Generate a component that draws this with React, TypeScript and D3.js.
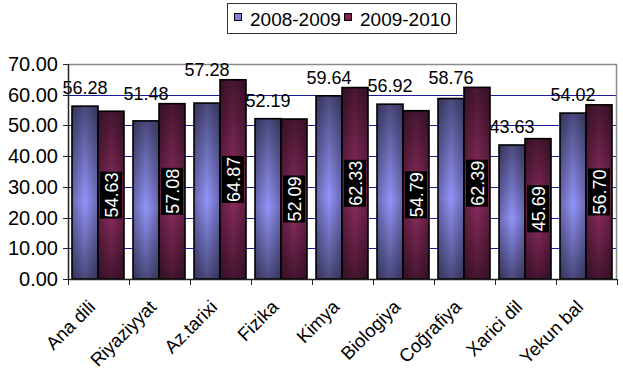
import React, { useEffect, useRef } from 'react';
import { select, scaleBand, scaleLinear, range } from 'd3';

const categories = [
  'Ana dili',
  'Riyaziyyat',
  'Az.tarixi',
  'Fizika',
  'Kimya',
  'Biologiya',
  'Coğrafiya',
  'Xarici dil',
  'Yekun bal'
];
const series = ['2008-2009', '2009-2010'];
const values0809 = [56.28, 51.48, 57.28, 52.19, 59.64, 56.92, 58.76, 43.63, 54.02];
const values0910 = [54.63, 57.08, 64.87, 52.09, 62.33, 54.79, 62.39, 45.69, 56.7];
const yTicks = [0, 10, 20, 30, 40, 50, 60, 70];

const canvasWidth = 623;
const canvasHeight = 373;
const plot = { left: 68, right: 617, top: 64, bottom: 279 };
const font = '"Liberation Sans", Arial, sans-serif';

function App() {
  const svgRef = useRef<SVGSVGElement>(null);

  useEffect(() => {
    const svg = select(svgRef.current);
    svg.selectAll('*').remove();

    const x = scaleBand().domain(categories).range([plot.left, plot.right]);
    const xInner = scaleBand().domain(series).range([4, 56]);
    const y = scaleLinear().domain([0, 70]).range([plot.bottom, plot.top]);

    // gradients
    const defs = svg.append('defs');
    const vGrad = (id: string, dark: string, light: string) => {
      const g = defs
        .append('linearGradient')
        .attr('id', id)
        .attr('x1', 0)
        .attr('y1', 0)
        .attr('x2', 0)
        .attr('y2', 1);
      g.append('stop').attr('offset', '0%').attr('stop-color', dark);
      g.append('stop').attr('offset', '55%').attr('stop-color', light);
      g.append('stop').attr('offset', '100%').attr('stop-color', dark);
    };
    vGrad('blueGrad', '#4a4a7e', '#9494fa');
    vGrad('redGrad', '#481632', '#922e62');
    const hShade = defs
      .append('linearGradient')
      .attr('id', 'hShade')
      .attr('x1', 0)
      .attr('y1', 0)
      .attr('x2', 1)
      .attr('y2', 0);
    hShade.append('stop').attr('offset', '0%').attr('stop-color', '#000').attr('stop-opacity', 0.3);
    hShade.append('stop').attr('offset', '50%').attr('stop-color', '#000').attr('stop-opacity', 0);
    hShade.append('stop').attr('offset', '100%').attr('stop-color', '#000').attr('stop-opacity', 0.3);

    svg
      .append('rect')
      .attr('width', canvasWidth)
      .attr('height', canvasHeight)
      .attr('fill', '#fff');

    // legend
    const legend = svg.append('g');
    legend
      .append('rect')
      .attr('x', 227.5)
      .attr('y', 3.5)
      .attr('width', 229)
      .attr('height', 30)
      .attr('fill', '#fff')
      .attr('stroke', '#333');
    const legendX = [234, 344];
    series.forEach((s, i) => {
      legend
        .append('rect')
        .attr('x', legendX[i] + 0.5)
        .attr('y', 13.5)
        .attr('width', 7)
        .attr('height', 7)
        .attr('fill', i === 0 ? '#8080e0' : '#802050')
        .attr('stroke', '#000');
      legend
        .append('text')
        .attr('x', legendX[i] + 16)
        .attr('y', 26)
        .attr('font-family', font)
        .attr('font-size', 19)
        .text(s);
    });

    // gridlines
    svg
      .append('g')
      .selectAll('line')
      .data(yTicks.filter(d => d > 0 && d < 70))
      .enter()
      .append('line')
      .attr('x1', plot.left)
      .attr('x2', plot.right)
      .attr('y1', d => Math.round(y(d)) + 0.5)
      .attr('y2', d => Math.round(y(d)) + 0.5)
      .attr('stroke', '#1c1ca0')
      .attr('stroke-width', 1);

    // plot border (top/right)
    svg
      .append('path')
      .attr('d', `M${plot.left},${plot.top + 0.5}H${plot.right - 0.5}V${plot.bottom}`)
      .attr('fill', 'none')
      .attr('stroke', '#8a8a8a')
      .attr('stroke-width', 1.5);

    // bars
    const groups = svg
      .append('g')
      .selectAll('g')
      .data(categories)
      .enter()
      .append('g')
      .attr('transform', d => `translate(${x(d)},0)`);

    const seriesValues = [values0809, values0910];
    series.forEach((s, si) => {
      const bars = groups
        .append('g')
        .datum((d, i) => seriesValues[si][i]);
      bars
        .append('rect')
        .attr('x', xInner(s))
        .attr('y', d => y(d))
        .attr('width', xInner.bandwidth())
        .attr('height', d => y(0) - y(d))
        .attr('fill', si === 0 ? 'url(#blueGrad)' : 'url(#redGrad)');
      bars
        .append('rect')
        .attr('x', xInner(s))
        .attr('y', d => y(d))
        .attr('width', xInner.bandwidth())
        .attr('height', d => y(0) - y(d))
        .attr('fill', 'url(#hShade)')
        .attr('stroke', '#000')
        .attr('stroke-width', 1.6);
    });

    // labels for 2009-2010: rotated, white on black, at the middle of the bar
    groups.each(function (d, i) {
      const g = select(this);
      const v = values0910[i];
      const cx = xInner(series[1]) + xInner.bandwidth() / 2;
      const cy = (y(v) + y(0)) / 2;
      const lab = g.append('g').attr('transform', `translate(${cx},${cy}) rotate(-90)`);
      lab
        .append('rect')
        .attr('x', -23.5)
        .attr('y', -11)
        .attr('width', 47)
        .attr('height', 22)
        .attr('fill', '#000');
      lab
        .append('text')
        .attr('text-anchor', 'middle')
        .attr('y', 6.5)
        .attr('font-family', font)
        .attr('font-size', 18)
        .attr('fill', '#fff')
        .text(v.toFixed(2));

      // label for 2008-2009 above the pair
      const bx = xInner(series[0]) + xInner.bandwidth() / 2;
      const by = Math.min(y(values0809[i]) - 12, y(v) - 3.5);
      g.append('text')
        .attr('x', bx)
        .attr('y', by)
        .attr('text-anchor', 'middle')
        .attr('font-family', font)
        .attr('font-size', 18)
        .attr('fill', '#000')
        .text(values0809[i].toFixed(2));
    });

    // y axis
    const yAxis = svg.append('g');
    yAxis
      .append('line')
      .attr('x1', plot.left + 0.5)
      .attr('x2', plot.left + 0.5)
      .attr('y1', plot.top)
      .attr('y2', plot.bottom)
      .attr('stroke', '#222')
      .attr('stroke-width', 1.5);
    const yt = yAxis.selectAll('g').data(yTicks).enter().append('g');
    yt.append('line')
      .attr('x1', plot.left - 5)
      .attr('x2', plot.left)
      .attr('y1', d => Math.round(y(d)) + 0.5)
      .attr('y2', d => Math.round(y(d)) + 0.5)
      .attr('stroke', '#222');
    yt.append('text')
      .attr('x', plot.left - 10)
      .attr('y', d => y(d) + 7)
      .attr('text-anchor', 'end')
      .attr('font-family', font)
      .attr('font-size', 20)
      .text(d => d.toFixed(2));

    // x axis
    const xAxis = svg.append('g');
    xAxis
      .append('line')
      .attr('x1', plot.left)
      .attr('x2', plot.right)
      .attr('y1', plot.bottom + 0.5)
      .attr('y2', plot.bottom + 0.5)
      .attr('stroke', '#222')
      .attr('stroke-width', 1.5);
    xAxis
      .selectAll('line.tick')
      .data(range(categories.length + 1))
      .enter()
      .append('line')
      .attr('class', 'tick')
      .attr('x1', i => plot.left + i * x.step() + 0.5)
      .attr('x2', i => plot.left + i * x.step() + 0.5)
      .attr('y1', plot.bottom)
      .attr('y2', plot.bottom + 6)
      .attr('stroke', '#222');
    xAxis
      .selectAll('text')
      .data(categories)
      .enter()
      .append('text')
      .attr('transform', d => `translate(${x(d) + x.bandwidth() / 2 - 2},${plot.bottom + 29}) rotate(-45)`)
      .attr('text-anchor', 'end')
      .attr('font-family', font)
      .attr('font-size', 18.5)
      .text(d => d);
  });

  return (
    <svg
      ref={svgRef}
      width={canvasWidth}
      height={canvasHeight}
      style={{ position: 'absolute', left: 0, top: 0 }}
    ></svg>
  );
}

export default App;
